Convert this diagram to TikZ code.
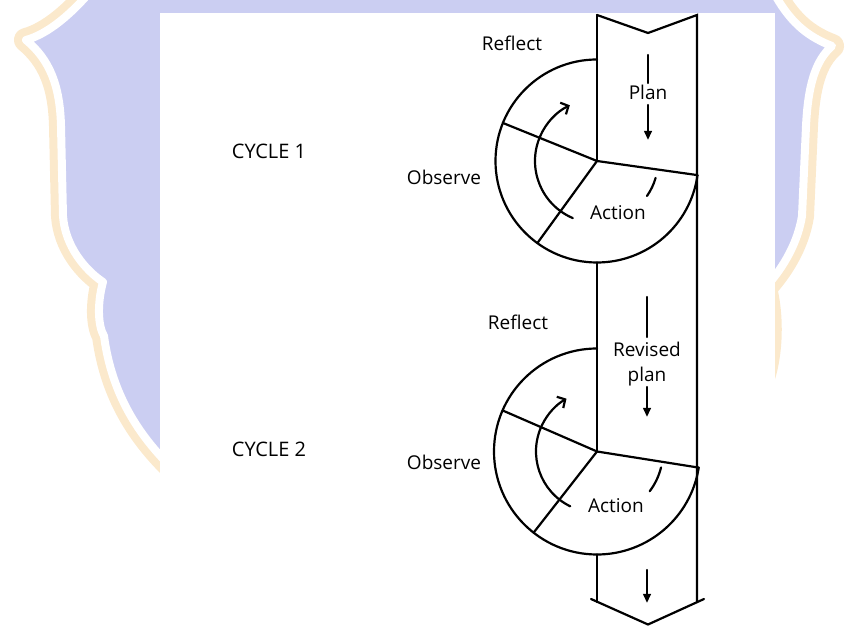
\documentclass[tikz,border=0pt]{standalone}
\usepackage{fontspec}
\setmainfont{Open Sans}
\usetikzlibrary{arrows.meta,calc}
\definecolor{lav}{RGB}{203,206,242}
\definecolor{shgold}{RGB}{251,233,204}
\tikzset{
  ln/.style={line width=2.2pt, line cap=round, line join=miter},
  lbl/.style={font=\fontsize{19}{23}\selectfont, inner sep=0pt, anchor=base},
  cyc/.style={font=\fontsize{20}{24}\selectfont, inner sep=0pt, anchor=base},
  barb/.style={-{Straight Barb[length=6pt,width=13pt,line width=2.2pt]}},
  filltip/.style={-{Triangle[length=9pt,width=7.5pt]}},
}
\def\shieldpath{(95,640) .. controls (72,612) and (48,592) .. (26,586)
  .. controls (50,566) and (60,540) .. (61,500) -- (63,410)
  .. controls (65,380) and (85,356) .. (103,344)
  .. controls (97,322) and (98,300) .. (104,290)
  .. controls (112,230) and (140,190) .. (170,160)
  .. controls (230,90) and (340,40) .. (430,8)
  .. controls (560,50) and (720,150) .. (760,240)
  .. controls (772,270) and (772,310) .. (765,338)
  .. controls (785,360) and (798,385) .. (802,410) -- (806,500)
  .. controls (808,540) and (815,565) .. (832,580)
  .. controls (800,592) and (785,612) .. (770,640) -- cycle}
\begin{document}
\begin{tikzpicture}[x=1pt,y=1pt]
\useasboundingbox (0,0) rectangle (848,626);
\clip (0,0) rectangle (848,626);
% watermark background
\draw[shgold, line width=24pt, line join=round] \shieldpath;
\fill[lav] \shieldpath;
\draw[white, line width=8pt, line join=round] \shieldpath;
\fill[white] (160,-30) rectangle (775,613);

% band
\coordinate (TL) at (597,611);
\coordinate (TN) at (648,593);
\coordinate (TR) at (697,611);
\coordinate (BL) at (597,24);
\coordinate (BR) at (697,24);
\coordinate (HL) at (591,27);
\coordinate (HT) at (648,1.5);
\coordinate (HR) at (704,27);
\draw[ln] (TL) -- (TN) -- (TR) -- (BR);
\draw[ln] (HL) -- (HT) -- (HR);

% cycle 1
\coordinate (V1) at (597,465);
\coordinate (T1) at ($(V1)+(90:101.5)$);
\coordinate (B1) at ($(V1)+(270:101.5)$);
\coordinate (R1) at ($(V1)+(-8:101.5)$);
\draw[ln] (T1) arc[start angle=90, end angle=352, radius=101.5];
\draw[ln] (TL) -- (V1);
\draw[ln] (V1) -- (R1);
\draw[ln] (V1) -- ++(158:101.5);
\draw[ln] (V1) -- ++(234:101.5);
\draw[ln, barb] ($(V1)+(247:62)$) arc[start angle=247, end angle=116, radius=62];
\draw[ln] ($(V1)+(-16:61)$) arc[start angle=-16, end angle=-35, radius=61];

% cycle 2
\coordinate (V2) at (597,174.5);
\coordinate (T2) at ($(V2)+(90:103)$);
\coordinate (B2) at ($(V2)+(270:103)$);
\coordinate (R2) at ($(V2)+(-9:103)$);
\draw[ln] (T2) arc[start angle=90, end angle=351, radius=103];
\draw[ln] (B1) -- (V2);
\draw[ln] (B2) -- (BL);
\draw[ln] (V2) -- (R2);
\draw[ln] (V2) -- ++(156.5:103);
\draw[ln] (V2) -- ++(232:103);
\draw[ln, barb] ($(V2)+(244:61)$) arc[start angle=244, end angle=120, radius=61];
\draw[ln] ($(V2)+(-14:66)$) arc[start angle=-14, end angle=-37, radius=66];

% labels
\node[lbl] (reflect1) at (512,575) {Reflect};
\node[lbl] (observe1) at (444,441) {Observe};
\node[lbl] (action1) at (618,406) {Action};
\node[lbl] (plan1) at (648,526) {Plan};
\node[cyc] (cycle1) at (269,467) {CYCLE 1};
\node[lbl] (reflect2) at (518,296) {Reflect};
\node[lbl] (observe2) at (444,156) {Observe};
\node[lbl] (action2) at (616,113) {Action};
\node[lbl] (revised) at (647,269) {Revised};
\node[lbl] (plan2) at (647,244) {plan};
\node[cyc] (cycle2) at (269,169) {CYCLE 2};

% flow arrows in band
\coordinate (p1a) at (648,571);
\coordinate (p1b) at (648,543);
\coordinate (p1c) at (648,521);
\coordinate (p1d) at (648,486);
\draw[ln] (p1a) -- (p1b);
\draw[ln, filltip] (p1c) -- (p1d);
\coordinate (p2a) at (647,329);
\coordinate (p2b) at (647,289);
\coordinate (p2c) at (647,239);
\coordinate (p2d) at (647,209);
\draw[ln] (p2a) -- (p2b);
\draw[ln, filltip] (p2c) -- (p2d);
\coordinate (p3a) at (647,56);
\coordinate (p3b) at (647,23);
\draw[ln, filltip] (p3a) -- (p3b);
\end{tikzpicture}
\end{document}
